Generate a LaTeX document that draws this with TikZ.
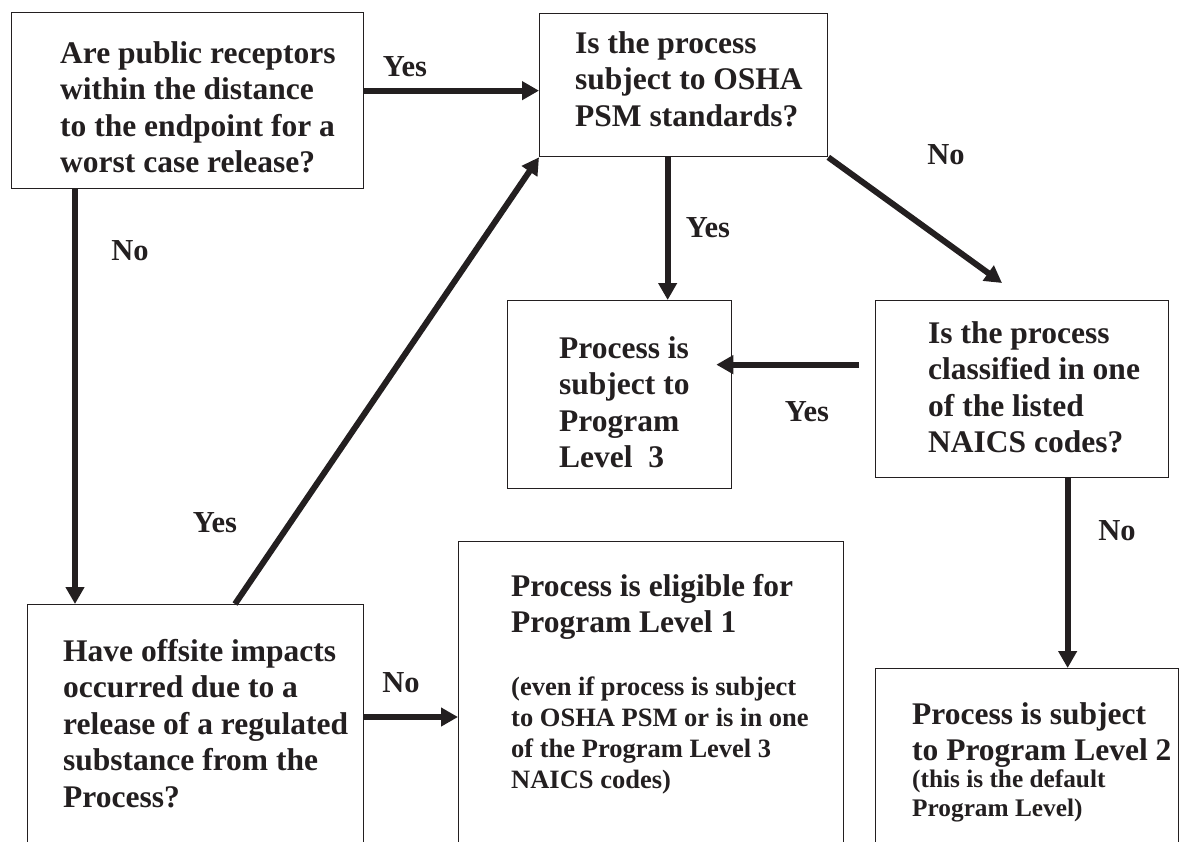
\documentclass[tikz,border=0pt]{standalone}
\usepackage{fontspec}
\setmainfont{Liberation Serif}
\usetikzlibrary{arrows.meta}
\definecolor{ink}{HTML}{231F20}
\newcommand{\boxfont}{\fontsize{31.5}{36.5}\selectfont\bfseries}
\newcommand{\notefont}{\fontsize{26.5}{31}\selectfont\bfseries}
\newcommand{\deffont}{\fontsize{25.3}{29.5}\selectfont\bfseries}
\newcommand{\lblfont}{\fontsize{30.5}{36}\selectfont\bfseries}

\begin{document}
\begin{tikzpicture}[x=1pt,y=-1pt,
    box/.style={draw=ink,line width=1.3pt,anchor=north west,inner sep=0pt},
    txt/.style={anchor=north west,inner sep=0pt,align=left,text=ink,font=\boxfont},
    lbl/.style={text=ink,font=\lblfont,inner sep=0pt},
    flow/.style={draw=ink,line width=6pt,-{Triangle[length=17pt,width=18pt]}}]
    \useasboundingbox (0,0) rectangle (1182,841);
    \clip (0,0) rectangle (1182,841);
    \node[box,minimum width=352pt,minimum height=176pt] (recv) at (11,12) {};
    \node[box,minimum width=288pt,minimum height=143pt] (osha) at (539,13) {};
    \node[box,minimum width=224pt,minimum height=188pt] (lvlthree) at (507,300) {};
    \node[box,minimum width=293pt,minimum height=177pt] (naics) at (875,300) {};
    \node[box,minimum width=336pt,minimum height=260pt] (offsite) at (27,604) {};
    \node[box,minimum width=385pt,minimum height=320pt] (lvlone) at (458,541) {};
    \node[box,minimum width=303pt,minimum height=200pt] (lvltwo) at (875,668) {};
    \node[txt] (recvq) at (60,41) {Are public receptors\\within the distance\\to the endpoint for a\\worst case release?};
    \node[txt] (oshaq) at (575,31) {Is the process\\subject to OSHA\\PSM standards?};
    \node[txt] (lvlthreet) at (559,336) {Process is\\subject to\\Program\\Level~~3};
    \node[txt] (naicsq) at (928,321) {Is the process\\classified in one\\of the listed\\NAICS codes?};
    \node[txt] (offsiteq) at (63,639) {Have offsite impacts\\occurred due to a\\release of a regulated\\substance from the\\Process?};
    \node[txt] (lvlonet) at (511,574) {Process is eligible for\\Program Level 1};
    \node[txt,font=\notefont] (lvlonen) at (511,677) {(even if process is subject\\to OSHA PSM or is in one\\of the Program Level 3\\NAICS codes)};
    \node[txt] (lvltwot) at (912,702) {Process is subject\\to Program Level 2};
    \node[txt,font=\deffont] (lvltwon) at (912,769) {(this is the default\\Program Level)};
    \coordinate (naicsin) at (1002,283);
    \draw[flow] ([yshift=10pt]recv.east) -- ([yshift=10pt]recv.east -| osha.west);
    \draw[flow] ([xshift=-16pt]osha.south) -- ([xshift=-16pt]osha.south |- lvlthree.north);
    \draw[flow] (osha.south east) -- (naicsin);
    \draw[flow] ([shift={(-16pt,24.5pt)}]naics.west) -- ([shift={(-16pt,24.5pt)}]naics.west -| lvlthree.east);
    \draw[flow] ([xshift=45.5pt]naics.south) -- ([xshift=45.5pt]naics.south |- lvltwo.north);
    \draw[flow] ([xshift=64pt]recv.south west) -- ([xshift=64pt]recv.south west |- offsite.north);
    \draw[flow] ([xshift=208pt]offsite.north west) -- (osha.south west);
    \draw[flow] ([yshift=-113pt]offsite.north east) -- ([yshift=-113pt]offsite.north east -| lvlone.west);
    \node[lbl] (yesa) at (405,67) {Yes};
    \node[lbl] (yesb) at (708,228) {Yes};
    \node[lbl] (nob) at (946,155) {No};
    \node[lbl] (yesc) at (807,412) {Yes};
    \node[lbl] (noc) at (1117,531) {No};
    \node[lbl] (noa) at (130,251) {No};
    \node[lbl] (yesd) at (215,523) {Yes};
    \node[lbl] (nod) at (401,683) {No};
\end{tikzpicture}
\end{document}
